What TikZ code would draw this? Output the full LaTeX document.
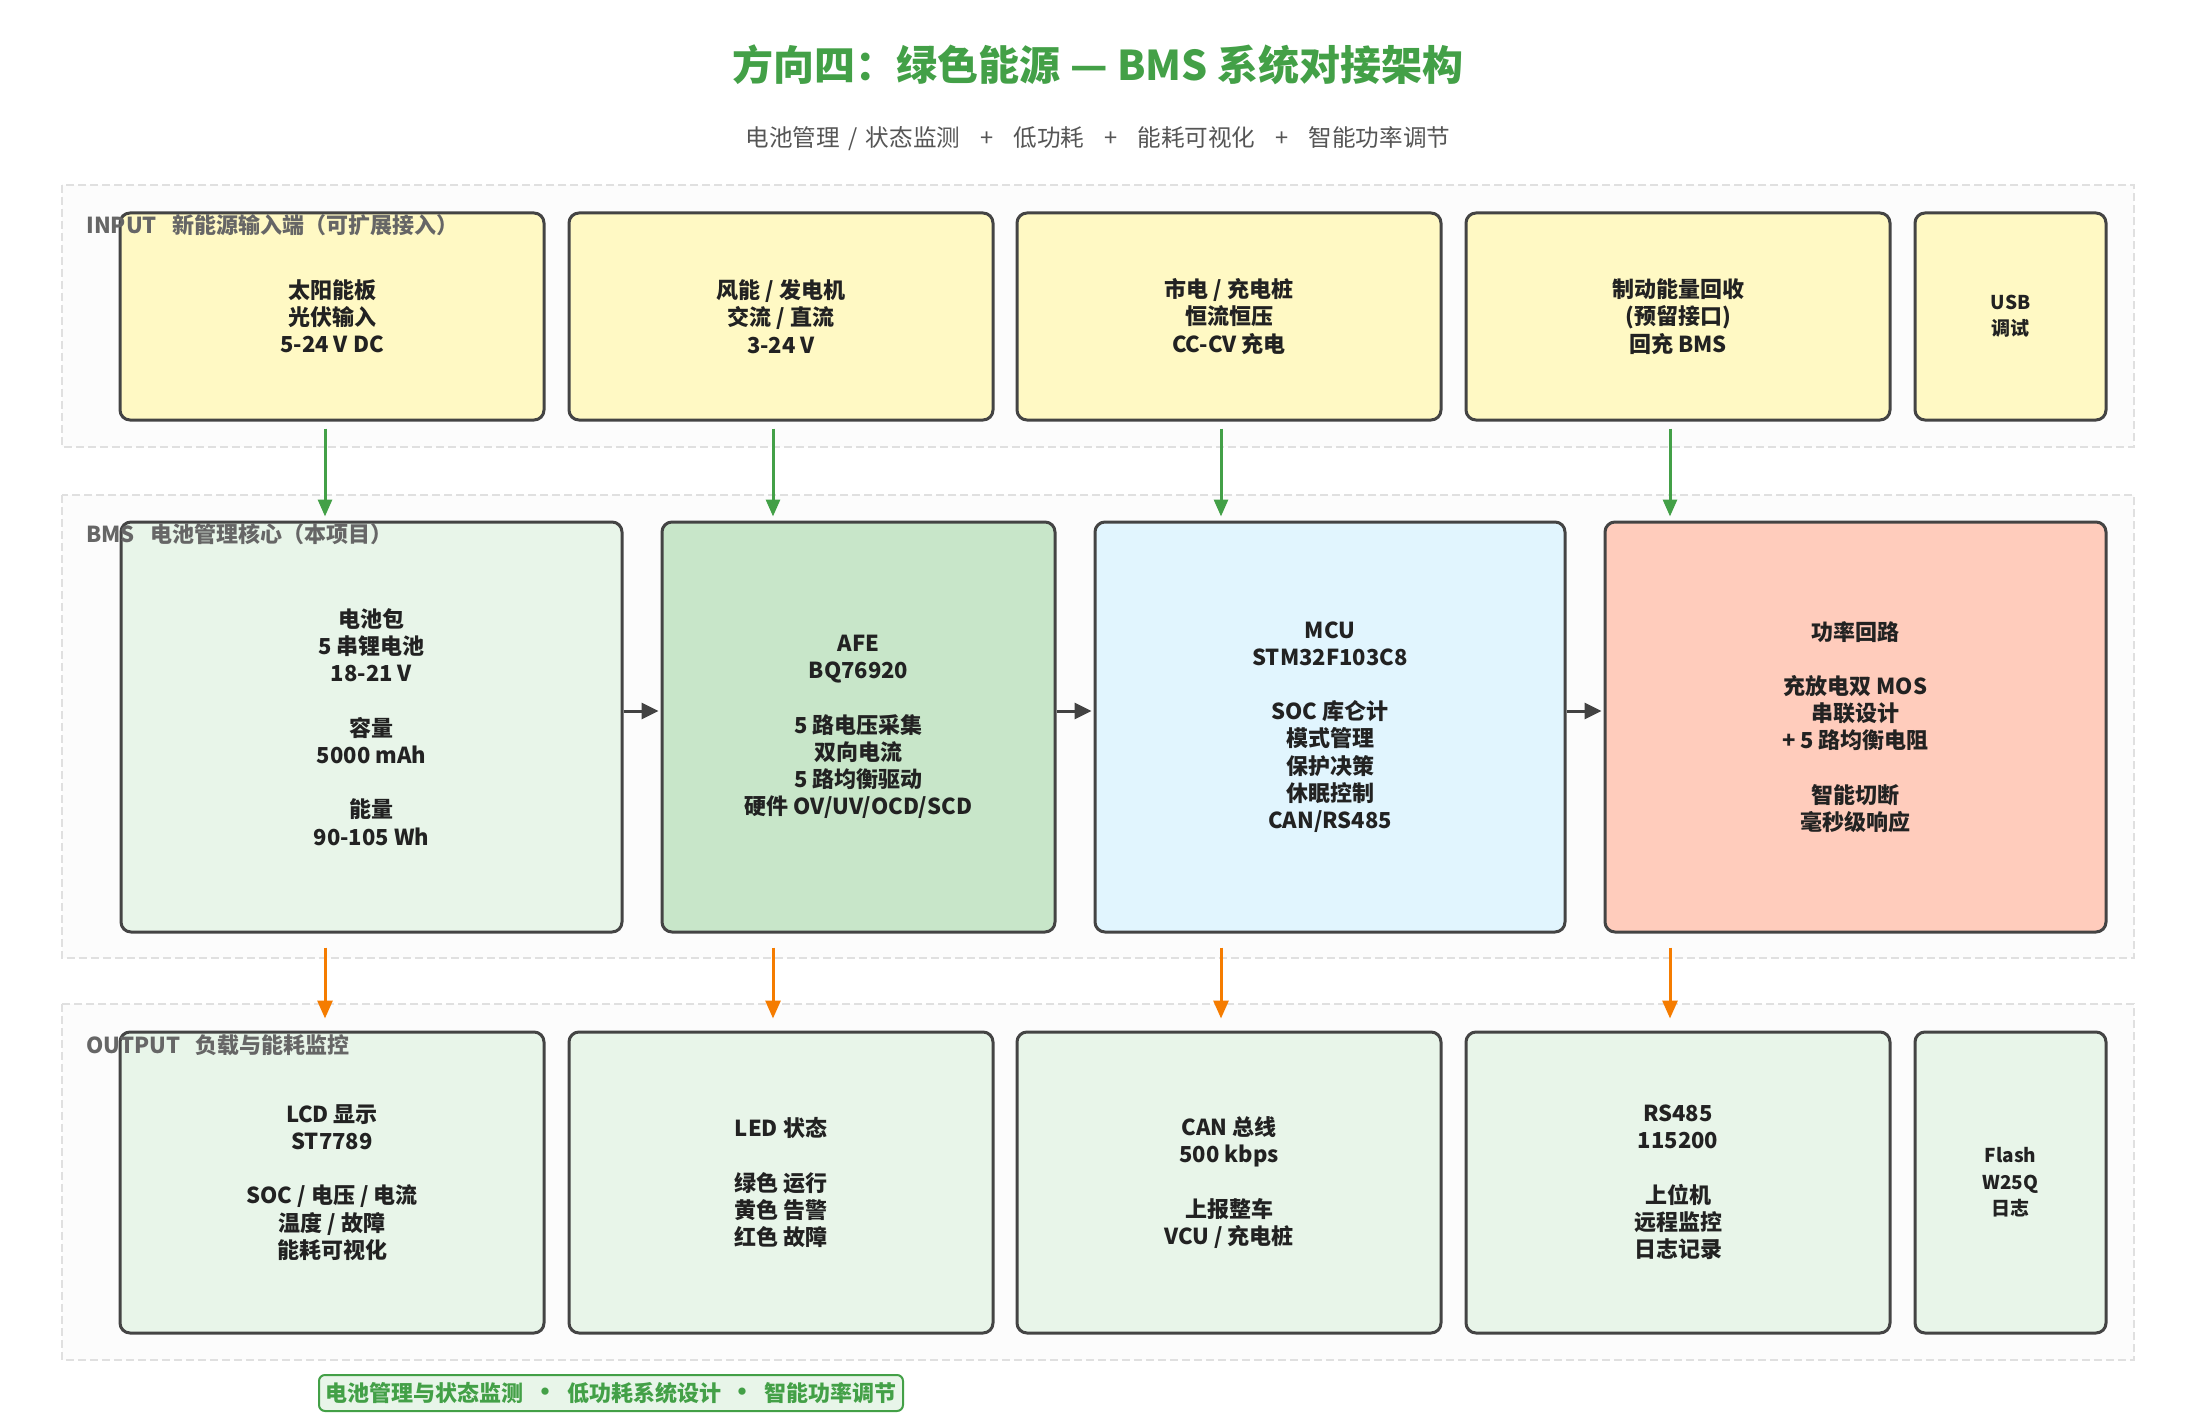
\documentclass[tikz,border=0pt]{standalone}
\usepackage{fontspec}
\setmainfont{Noto Sans CJK SC}
\usetikzlibrary{arrows.meta}
\definecolor{ttlgreen}{HTML}{43A047}
\definecolor{subgray}{HTML}{555555}
\definecolor{lblgray}{HTML}{666666}
\definecolor{grpline}{HTML}{E0E0E0}
\definecolor{grpfill}{HTML}{FCFCFC}
\definecolor{boxline}{HTML}{444444}
\definecolor{txtdark}{HTML}{222222}
\definecolor{inyellow}{HTML}{FFF9C4}
\definecolor{lgreen}{HTML}{E8F5E9}
\definecolor{mgreen}{HTML}{C8E6C9}
\definecolor{lblue}{HTML}{E1F5FE}
\definecolor{lsalmon}{HTML}{FFCCBC}
\definecolor{arrgray}{HTML}{424242}
\definecolor{arrorange}{HTML}{F57C00}
\newcommand{\plussep}{\hspace{0.85em}+\hspace{0.85em}}
\newcommand{\slashsep}{\hspace{0.35em}/\hspace{0.35em}}
\newcommand{\footdot}{\hspace{0.4em}{\fontsize{13}{12}\selectfont •}\hspace{0.4em}}
\begin{document}
\begin{tikzpicture}[x=0.5pt,y=-0.5pt,
  group/.style={draw=grpline, fill=grpfill, line width=1pt, dash pattern=on 4pt off 2pt},
  grplabel/.style={anchor=west, inner sep=0, text=lblgray, font=\fontsize{11}{12}\selectfont\bfseries},
  box/.style={draw=boxline, line width=1.5pt, rounded corners=5pt, align=center, inner sep=0,
    text=txtdark, font=\fontsize{11}{13.6}\selectfont\bfseries},
  smallbox/.style={box, font=\fontsize{9.5}{13.2}\selectfont\bfseries},
  inbox/.style={box, fill=inyellow, minimum width=212pt, minimum height=103.5pt},
  bmsbox/.style={box, minimum height=205pt},
  outbox/.style={box, fill=lgreen, minimum width=212pt, minimum height=150.5pt},
  garrow/.style={draw=ttlgreen, line width=1.5pt, -{Triangle[length=8.5pt,width=7pt]}},
  oarrow/.style={draw=arrorange, line width=1.5pt, -{Triangle[length=9pt,width=7.5pt]}},
  harrow/.style={draw=arrgray, line width=1.5pt, -{Triangle[length=8.5pt,width=8pt]}}
]
\useasboundingbox[fill=white] (0,0) rectangle (2196,1423);

% title
\node[text=ttlgreen, font=\fontsize{20.5}{24}\selectfont\bfseries] (title) at (1098,65) {方向四：绿色能源 — BMS 系统对接架构};
\node[text=subgray, font=\fontsize{11.8}{13}\selectfont] (subtitle) at (1098,139) {电池管理\slashsep 状态监测\plussep 低功耗\plussep 能耗可视化\plussep 智能功率调节};

% groups
\path[group] (62,185) rectangle (2134,447);
\path[group] (62,495) rectangle (2134,958);
\path[group] (62,1004) rectangle (2134,1360);

% input row
\node[inbox] (in1) at (332,316.5) {太阳能板\\光伏输入\\5-24 V DC};
\node[inbox] (in2) at (781,316.5) {风能 / 发电机\\交流 / 直流\\3-24 V};
\node[inbox] (in3) at (1229,316.5) {市电 / 充电桩\\恒流恒压\\CC-CV 充电};
\node[inbox] (in4) at (1678,316.5) {制动能量回收\\(预留接口)\\回充 BMS};
\node[smallbox, fill=inyellow, minimum width=95.5pt, minimum height=103.5pt] (in5) at (2010.5,316.5) {USB\\调试};

% bms row
\node[bmsbox, fill=lgreen, minimum width=250.5pt] (bms1) at (371.5,727) {电池包\\5 串锂电池\\18-21 V\\[13.6pt]容量\\5000 mAh\\[13.6pt]能量\\90-105 Wh};
\node[bmsbox, fill=mgreen, minimum width=196.5pt] (bms2) at (858.5,727) {AFE\\BQ76920\\[13.6pt]5 路电压采集\\双向电流\\5 路均衡驱动\\硬件 OV/UV/OCD/SCD};
\node[bmsbox, fill=lblue, minimum width=235pt] (bms3) at (1330,727) {MCU\\STM32F103C8\\[13.6pt]SOC 库仑计\\模式管理\\保护决策\\休眠控制\\CAN/RS485};
\node[bmsbox, fill=lsalmon, minimum width=250.5pt] (bms4) at (1855.5,727) {功率回路\\[13.6pt]充放电双 MOS\\串联设计\\+ 5 路均衡电阻\\[13.6pt]智能切断\\毫秒级响应};

% output row
\node[outbox] (out1) at (332,1182.5) {LCD 显示\\ST7789\\[13.6pt]SOC / 电压 / 电流\\温度 / 故障\\能耗可视化};
\node[outbox] (out2) at (781,1182.5) {LED 状态\\[13.6pt]绿色 运行\\黄色 告警\\红色 故障};
\node[outbox] (out3) at (1229,1182.5) {CAN 总线\\500 kbps\\[13.6pt]上报整车\\VCU / 充电桩};
\node[outbox] (out4) at (1678,1182.5) {RS485\\115200\\[13.6pt]上位机\\远程监控\\日志记录};
\node[smallbox, fill=lgreen, minimum width=95.5pt, minimum height=150.5pt] (out5) at (2010.5,1182.5) {Flash\\W25Q\\日志};

% group labels
\node[grplabel] (lblin) at (86,225) {INPUT\hspace{0.7em}新能源输入端（可扩展接入）};
\node[grplabel] (lblbms) at (86,534) {BMS\hspace{0.7em}电池管理核心（本项目）};
\node[grplabel] (lblout) at (86,1045) {OUTPUT\hspace{0.7em}负载与能耗监控};

% arrow columns
\coordinate (c1) at (325,0);
\coordinate (c2) at (773,0);
\coordinate (c3) at (1221,0);
\coordinate (c4) at (1670,0);
\coordinate (hy) at (0,711);

\draw[garrow, shorten <=3.5pt, shorten >=2pt] (in1.south -| c1) -- (bms1.north -| c1);
\draw[garrow, shorten <=3.5pt, shorten >=2pt] (in2.south -| c2) -- (bms2.north -| c2);
\draw[garrow, shorten <=3.5pt, shorten >=2pt] (in3.south -| c3) -- (bms3.north -| c3);
\draw[garrow, shorten <=3.5pt, shorten >=2pt] (in4.south -| c4) -- (bms4.north -| c4);

\draw[harrow, shorten >=1pt] (bms1.east |- hy) -- (bms2.west |- hy);
\draw[harrow, shorten >=1pt] (bms2.east |- hy) -- (bms3.west |- hy);
\draw[harrow, shorten >=1pt] (bms3.east |- hy) -- (bms4.west |- hy);

\draw[oarrow, shorten <=7pt, shorten >=6pt] (bms1.south -| c1) -- (out1.north -| c1);
\draw[oarrow, shorten <=7pt, shorten >=6pt] (bms2.south -| c2) -- (out2.north -| c2);
\draw[oarrow, shorten <=7pt, shorten >=6pt] (bms3.south -| c3) -- (out3.north -| c3);
\draw[oarrow, shorten <=7pt, shorten >=6pt] (bms4.south -| c4) -- (out4.north -| c4);

% footer badge
\node[draw=ttlgreen, fill=lgreen, line width=1pt, rounded corners=3pt, minimum width=292pt, minimum height=18pt, inner sep=0,
  text=ttlgreen, font=\fontsize{11}{12}\selectfont\bfseries] (footer) at (611,1393)
  {电池管理与状态监测\footdot 低功耗系统设计\footdot 智能功率调节};
\end{tikzpicture}
\end{document}
